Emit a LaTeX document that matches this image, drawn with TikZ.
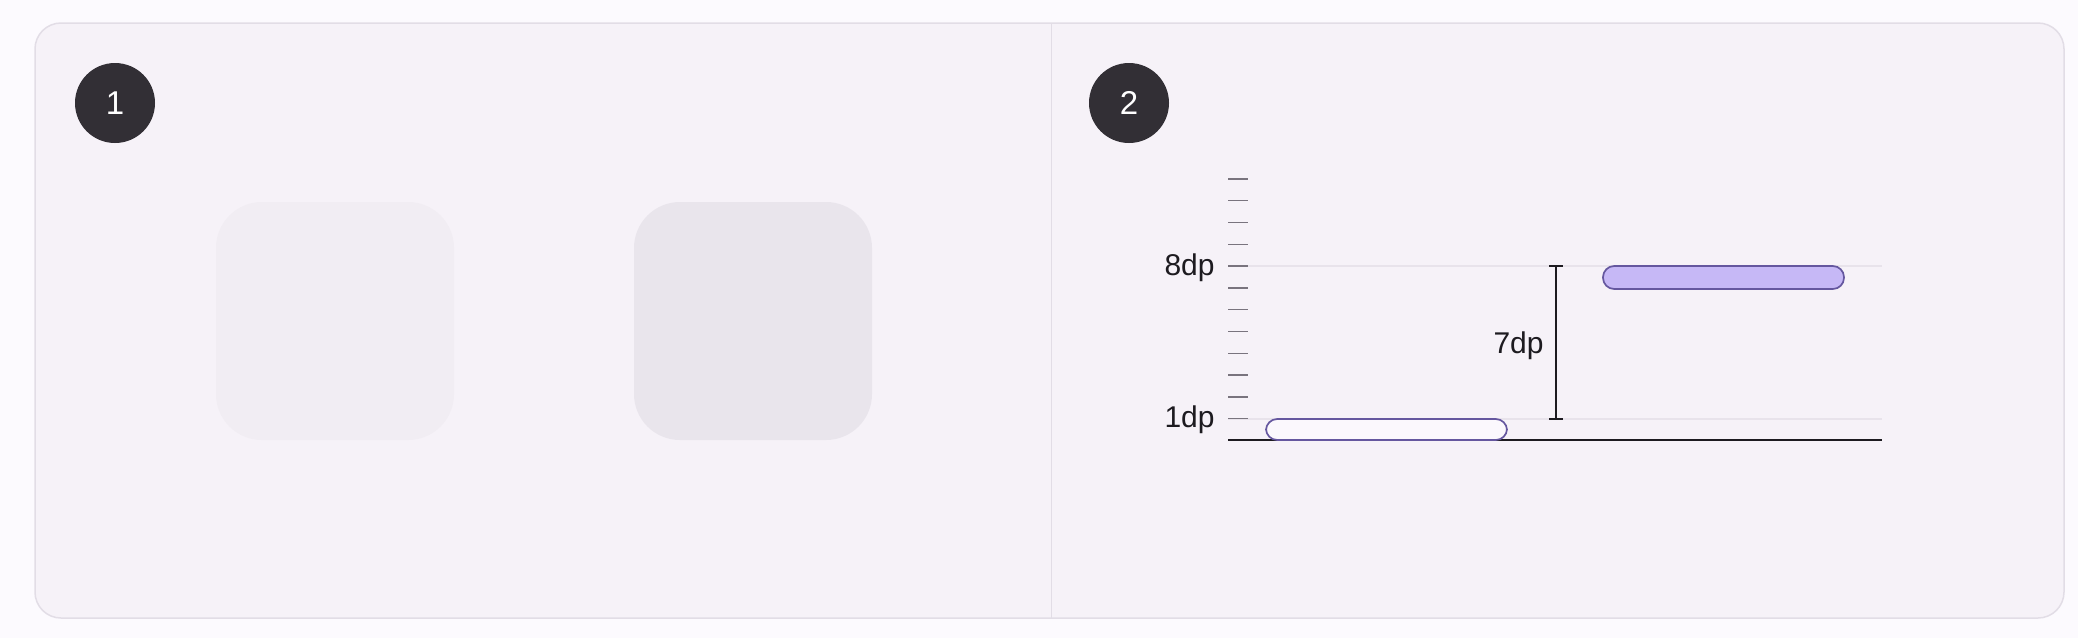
\documentclass[tikz,border=0pt]{standalone}
\usepackage{fontspec}
\setmainfont{Liberation Sans}
\definecolor{pagebg}{HTML}{FCFAFE}
\definecolor{panelbg}{HTML}{F6F2F8}
\definecolor{frameline}{HTML}{E2DDE6}
\definecolor{badge}{HTML}{322F35}
\definecolor{sqA}{HTML}{F1EDF3}
\definecolor{sqB}{HTML}{E9E5EC}
\definecolor{ink}{HTML}{1D1B20}
\definecolor{tick}{HTML}{79747E}
\definecolor{grid}{HTML}{E8E3EB}
\definecolor{pillfill}{HTML}{C6B8F6}
\definecolor{pillline}{HTML}{65579F}
\definecolor{pillwhite}{HTML}{FBF8FD}
\tikzset{
  badgenode/.style={circle,fill=badge,minimum size=40pt,inner sep=0pt,text=white,font=\fontsize{16.5}{19}\selectfont},
  sqnode/.style={rounded corners=23pt,draw=none},
  ticknode/.style={draw=tick,line width=0.7pt},
  gridnode/.style={draw=grid,line width=0.6pt},
  lbl/.style={anchor=base east,inner sep=0pt,text=ink,font=\fontsize{15}{17}\selectfont},
  pillnode/.style={rounded corners=5.6pt,draw=pillline,line width=0.85pt},
  dimline/.style={draw=ink,line width=1pt},
}
\begin{document}
\begin{tikzpicture}[x=0.5pt,y=-0.5pt]
\path[fill=pagebg] (0,0) rectangle (2078,638);
\useasboundingbox (0,0) rectangle (2078,638);
% frame
\path[fill=panelbg,draw=frameline,line width=0.75pt,rounded corners=13pt] (35,23) rectangle (2064,618);
\draw[frameline,line width=0.5pt] (1051,23) -- (1051,618);
% badges
\node[badgenode] (b1) at (115,103) {1};
\node[badgenode] (b2) at (1129,103) {2};
% panel 1 squares
\path[sqnode,fill=sqA] (216,202) rectangle (454,440);
\path[sqnode,fill=sqB] (634,202) rectangle (872,440);
% panel 2 chart
\coordinate (g8l) at (1228,266);
\coordinate (g8r) at (1882,266);
\coordinate (g1l) at (1228,419);
\coordinate (g1r) at (1882,419);
\draw[gridnode] (g8l) -- (g8r);
\draw[gridnode] (g1l) -- (g1r);
\foreach \i in {0,...,11}{
  \draw[ticknode] (1228,{179+\i*21.79}) -- (1248,{179+\i*21.79});
}
\node[lbl] (l8) at (1215,275) {8dp};
\node[lbl] (l1) at (1215,427) {1dp};
% baseline and pills
\coordinate (bl) at (1228,440);
\coordinate (br) at (1882,440);
\draw[ink,line width=0.75pt] (bl) -- (br);
\path[pillnode,fill=pillwhite] (1266,419) rectangle (1507,440);
\path[pillnode,fill=pillfill] (1603,266) rectangle (1844,289);
% dimension
\coordinate (dt) at (1556,266);
\coordinate (db) at (1556,419);
\draw[dimline] (dt) -- (db);
\draw[dimline] (1549,266) -- (1563,266);
\draw[dimline] (1549,419) -- (1563,419);
\node[lbl] (l7) at (1544,353) {7dp};
\end{tikzpicture}
\end{document}
